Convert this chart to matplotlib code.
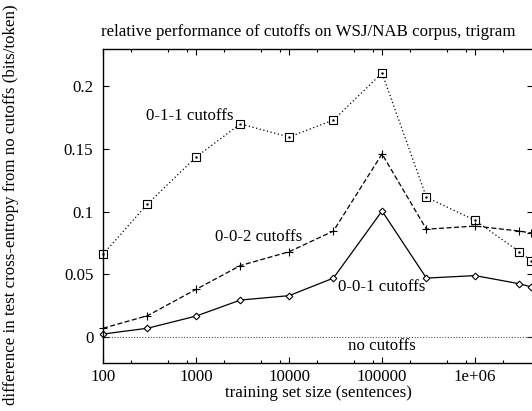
import matplotlib
matplotlib.use("Agg")
import matplotlib.pyplot as plt
from matplotlib.ticker import FixedLocator, FixedFormatter, NullFormatter

# training set sizes (sentences)
sizes = [100, 300, 1000, 3000, 10000, 30000, 100000, 300000, 1e6, 3e6, 4e6]

# difference in test cross-entropy from no cutoffs (bits/token)
cut_011 = [0.066, 0.106, 0.1435, 0.170, 0.1595, 0.173, 0.2105, 0.1115, 0.093, 0.068, 0.061]
cut_002 = [0.007, 0.017, 0.038, 0.057, 0.068, 0.0845, 0.146, 0.086, 0.0885, 0.0845, 0.083]
cut_001 = [0.0024, 0.007, 0.0167, 0.0295, 0.033, 0.047, 0.1005, 0.047, 0.049, 0.0425, 0.040]

x_major = [100, 1000, 10000, 100000, 1e6]
x_major_labels = ["100", "1000", "10000", "100000", "1e+06"]
y_major = [0, 0.05, 0.1, 0.15, 0.2]
y_major_labels = ["0", "0.05", "0.1", "0.15", "0.2"]

plt.rcParams["font.family"] = ["Liberation Serif", "DejaVu Serif"]
plt.rcParams["font.size"] = 12.2

W, H = 532, 411
fig = plt.figure(figsize=(W / 100, H / 100), dpi=100)
ax = fig.add_axes([103 / W, (H - 363) / H, (533 - 103) / W, (363 - 49) / H])

ax.set_xscale("log")
ax.set_xlim(100, 4.2e6)
ax.set_ylim(-0.0207, 0.2297)

lw = 0.9
ax.axhline(0, color="#555555", lw=0.8, ls=(0, (1, 1.5)))
ax.plot(sizes, cut_011, color="black", lw=lw, ls=(0, (1, 2.0)),
        marker="s", ms=5.4, mfc="white", mec="black", mew=0.8, clip_on=False)
ax.plot(sizes, cut_011, ls="none", marker=".", ms=1.5, color="black", clip_on=False)
ax.plot(sizes, cut_002, color="black", lw=lw, ls=(0, (4, 2)),
        marker="+", ms=6, mew=0.8, clip_on=False)
ax.plot(sizes, cut_001, color="black", lw=lw, ls="-",
        marker="D", ms=3.4, mfc="white", mec="black", mew=0.8, clip_on=False)

ax.text(290, 0.176, "0-1-1 cutoffs", ha="left", va="center")
ax.text(1600, 0.0797, "0-0-2 cutoffs", ha="left", va="center")
ax.text(33600, 0.040, "0-0-1 cutoffs", ha="left", va="center")
ax.text(1.0e5, -0.0075, "no cutoffs", ha="center", va="center")

ax.xaxis.set_major_locator(FixedLocator(x_major))
ax.xaxis.set_major_formatter(FixedFormatter(x_major_labels))
minor = [m * d for d in [100, 1000, 10000, 100000, 1e6] for m in (2, 5, 8)]
ax.xaxis.set_minor_locator(FixedLocator(minor))
ax.xaxis.set_minor_formatter(NullFormatter())
ax.yaxis.set_major_locator(FixedLocator(y_major))
ax.yaxis.set_major_formatter(FixedFormatter(y_major_labels))

ax.tick_params(which="both", direction="in", top=True, right=True, width=0.8)
ax.tick_params(which="major", length=4)
ax.tick_params(which="minor", length=2.2)
ax.tick_params(axis="x", pad=4)
ax.tick_params(axis="y", pad=7)
for s in ax.spines.values():
    s.set_linewidth(1.0)

ax.set_xlabel("training set size (sentences)", labelpad=0)
fig.text(308 / W, 1 - 32 / H, "relative performance of cutoffs on WSJ/NAB corpus, trigram",
         ha="center", va="center")
fig.text(11 / W, 1 - 205 / H,
         "difference in test cross-entropy from no cutoffs (bits/token)",
         ha="center", va="center", rotation=90)

fig.savefig("out.png", dpi=100)
